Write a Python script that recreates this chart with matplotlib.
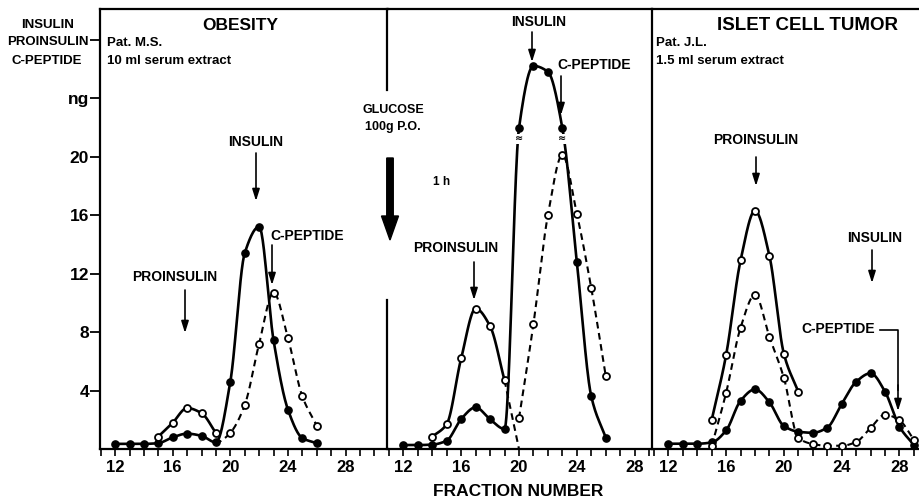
import numpy as np
import matplotlib
matplotlib.use("Agg")
import matplotlib.pyplot as plt
from matplotlib.patches import FancyArrow
from matplotlib.lines import Line2D
from matplotlib.ticker import MultipleLocator, FixedLocator

plt.rcParams['font.family'] = ['Liberation Sans', 'DejaVu Sans']
plt.rcParams['font.weight'] = 'bold'

# ---------------- data ----------------
# Obesity (Pat. M.S.)
ob_ins_x = list(range(12, 27))
ob_insulin = [0.35, 0.35, 0.35, 0.4, 0.8, 1.05, 0.9, 0.45, 4.6, 13.4, 15.2, 7.45, 2.7, 0.75, 0.4]
ob_pro_x = [15, 16, 17, 18, 19]
ob_proinsulin = [0.85, 1.8, 2.8, 2.45, 1.1]
ob_cpep_x = [19, 20, 21, 22, 23, 24, 25, 26]
ob_cpeptide = [0.3, 1.1, 3.0, 7.2, 10.7, 7.6, 3.6, 1.6]   # first value: start of dashed line (no marker)

# 1 h after glucose 100 g p.o.
gl_ins_x = list(range(12, 27))
gl_insulin = [0.27, 0.27, 0.3, 0.57, 2.05, 2.85, 2.03, 1.37, 21.95, 26.2, 25.8, 21.95, 12.8, 3.6, 0.77]
gl_ins_break_x = [20, 23]
gl_pro_x = [14, 15, 16, 17, 18, 19]
gl_proinsulin = [0.84, 1.7, 6.2, 9.6, 8.4, 4.7]
gl_pro_tail_x = [19, 20]
gl_pro_tail = [4.7, 0.0]
gl_cpep_x = [20, 21, 22, 23, 24, 25, 26]
gl_cpeptide = [2.1, 8.55, 16.0, 20.1, 16.1, 11.0, 5.0]

# Islet cell tumor (Pat. J.L.)
tu_ins_x = list(range(12, 30))
tu_insulin = [0.36, 0.36, 0.36, 0.45, 1.27, 3.3, 4.08, 3.19, 1.57, 1.18, 1.11, 1.46, 3.07, 4.6, 5.18, 3.92, 1.52, 0.27]
tu_pro_x = list(range(15, 22))
tu_proinsulin = [1.98, 6.43, 12.9, 16.3, 13.2, 6.5, 3.9]
tu_cpep_x = list(range(15, 30))
tu_cpeptide = [0.2, 3.84, 8.3, 10.55, 7.66, 4.86, 0.75, 0.34, 0.22, 0.22, 0.48, 1.44, 2.35, 1.96, 0.63]

y_ticks = [4, 8, 12, 16, 20, 24, 28]
y_ticklabels = ['4', '8', '12', '16', '20', 'ng', '']
x_major = [12, 16, 20, 24, 28]

# ---------------- helpers ----------------
def pchip(x, y, n=24):
    x = np.asarray(x, float); y = np.asarray(y, float)
    h = np.diff(x); d = np.diff(y) / h
    m = np.zeros_like(y)
    for k in range(1, len(x) - 1):
        if d[k - 1] * d[k] > 0:
            w1 = 2 * h[k] + h[k - 1]; w2 = h[k] + 2 * h[k - 1]
            m[k] = (w1 + w2) / (w1 / d[k - 1] + w2 / d[k])
    m[0] = d[0]; m[-1] = d[-1]
    xs, ys = [], []
    for k in range(len(x) - 1):
        t = np.linspace(0, 1, n, endpoint=(k == len(x) - 2))
        h00 = 2*t**3 - 3*t**2 + 1; h10 = t**3 - 2*t**2 + t
        h01 = -2*t**3 + 3*t**2; h11 = t**3 - t**2
        xs.append(x[k] + t * h[k])
        ys.append(h00*y[k] + h10*h[k]*m[k] + h01*y[k+1] + h11*h[k]*m[k+1])
    return np.concatenate(xs), np.concatenate(ys)

def curve(ax, x, y, filled, dashed=False, mark_from=0):
    sx, sy = pchip(x, y)
    ls = (0, (3.2, 2.2)) if dashed else '-'
    ax.plot(sx, sy, color='black', lw=1.5 if dashed else 1.9, ls=ls, zorder=2,
            solid_capstyle='round')
    mx = x[mark_from:]; my = y[mark_from:]
    if filled:
        ax.plot(mx, my, 'o', ms=5.2, mfc='black', mec='black', zorder=4)
    else:
        ax.plot(mx, my, 'o', ms=5.0, mfc='white', mec='black', mew=1.3, zorder=4)

W, H = 920, 500
def P(x, y):
    return (x / W, 1 - y / H)

fig = plt.figure(figsize=(9.2, 5), dpi=100)

axL = fig.add_axes([100 / W, 51 / H, 288 / W, 440 / H])
axM = fig.add_axes([388 / W, 51 / H, 264 / W, 440 / H])
axR = fig.add_axes([652 / W, 51 / H, 268 / W, 440 / H])

axL.set_xlim(10.95, 30.95)
axM.set_xlim(10.94, 29.2)
axR.set_xlim(10.87, 29.42)
for ax in (axL, axM, axR):
    ax.set_ylim(0, 30.09)
    ax.set_facecolor('none')
    for s in ax.spines.values():
        s.set_linewidth(1.6)
    ax.xaxis.set_major_locator(FixedLocator(x_major))
    ax.xaxis.set_minor_locator(MultipleLocator(1))
    ax.tick_params(axis='x', which='both', direction='out', width=1.2, labelsize=12, pad=3)
    ax.tick_params(axis='x', which='major', length=5)
    ax.tick_params(axis='x', which='minor', length=5)

axL.spines['right'].set_visible(False)
axM.spines['right'].set_visible(False)
axM.spines['left'].set_visible(False)
axR.spines['right'].set_visible(False)

axL.set_yticks(y_ticks)
axL.set_yticklabels(y_ticklabels)
axL.tick_params(axis='y', direction='out', length=7, width=1.3, labelsize=12.5, pad=1)
axM.set_yticks([]); axR.set_yticks([])

# ---------------- curves ----------------
curve(axL, ob_ins_x, ob_insulin, True)
curve(axL, ob_pro_x, ob_proinsulin, False)
curve(axL, ob_cpep_x, ob_cpeptide, False, dashed=True, mark_from=1)

curve(axM, gl_ins_x, gl_insulin, True)
curve(axM, gl_pro_x, gl_proinsulin, False)
axM.plot(gl_pro_tail_x, gl_pro_tail, color='black', lw=1.5, ls=(0, (3.2, 2.2)), zorder=2)
curve(axM, gl_cpep_x, gl_cpeptide, False, dashed=True)
for bx in gl_ins_break_x:
    axM.text(bx, 21.2, '≈', fontsize=7, ha='center', va='center', zorder=5,
             family=['DejaVu Sans'],
             bbox=dict(boxstyle='square,pad=0.05', fc='white', ec='none'))

curve(axR, tu_ins_x, tu_insulin, True)
curve(axR, tu_pro_x, tu_proinsulin, False)
curve(axR, tu_cpep_x, tu_cpeptide, False, dashed=True)

# ---------------- divider between panel 1 and 2 ----------------
for (ya, yb) in [(9, 90), (300, 449)]:
    fig.add_artist(Line2D([387 / W, 387 / W], [P(0, ya)[1], P(0, yb)[1]], color='black', lw=1.6))

# big glucose arrow
fig.add_artist(FancyArrow(3.90, (H - 158) / 100, 0, -0.82, width=0.065, head_width=0.17,
                          head_length=0.24, length_includes_head=True,
                          transform=fig.dpi_scale_trans, color='black'))

# ---------------- texts ----------------
def T(x, y, s, fs=9, ha='center'):
    fig.text(*P(x, y), s, fontsize=fs, ha=ha, va='center', fontweight='bold')

T(48, 25, 'INSULIN', 9.5)
T(48, 42, 'PROINSULIN', 9.5)
T(47, 61, 'C-PEPTIDE', 9.5)
T(240, 26, 'OBESITY', 12.5)
T(107, 43, 'Pat. M.S.', 9.5, ha='left')
T(107, 61, '10 ml serum extract', 9.5, ha='left')
T(393, 110, 'GLUCOSE', 9)
T(393, 127, '100g P.O.', 9)
T(442, 182, '1 h', 8.5)
T(808, 26, 'ISLET CELL TUMOR', 13.5)
T(656, 43, 'Pat. J.L.', 9.5, ha='left')
T(656, 61, '1.5 ml serum extract', 9.5, ha='left')
T(518, 491, 'FRACTION NUMBER', 12.5)

def label_arrow(text, tx, ty, ax_x, y0, y1):
    T(tx, ty, text, 10)
    fig.add_artist(matplotlib.text.Annotation(
        '', xy=P(ax_x, y1), xytext=P(ax_x, y0), xycoords='figure fraction',
        arrowprops=dict(arrowstyle='-|>,head_length=0.7,head_width=0.22', lw=1.2,
                        color='black', shrinkA=0, shrinkB=0, mutation_scale=10)))

label_arrow('INSULIN', 256, 142, 256, 153, 201)
label_arrow('C-PEPTIDE', 307, 236, 272, 245, 285)
label_arrow('PROINSULIN', 175, 277, 185, 290, 333)
label_arrow('INSULIN', 539, 22, 532, 32, 62)
label_arrow('C-PEPTIDE', 594, 65, 561, 76, 115)
label_arrow('PROINSULIN', 456, 248, 474, 262, 300)
label_arrow('PROINSULIN', 756, 140, 756, 157, 186)
label_arrow('INSULIN', 875, 238, 872, 250, 283)
# bracketed C-PEPTIDE arrow in tumor panel
T(838, 329, 'C-PEPTIDE', 10)
fig.add_artist(Line2D([880 / W, 898 / W, 898 / W],
                      [P(0, 330)[1], P(0, 330)[1], P(0, 390)[1]], color='black', lw=1.2))
fig.add_artist(matplotlib.text.Annotation(
    '', xy=P(898, 411), xytext=P(898, 385), xycoords='figure fraction',
    arrowprops=dict(arrowstyle='-|>,head_length=0.7,head_width=0.22', lw=1.2,
                    color='black', shrinkA=0, shrinkB=0, mutation_scale=10)))

fig.savefig('out.png', dpi=100)
